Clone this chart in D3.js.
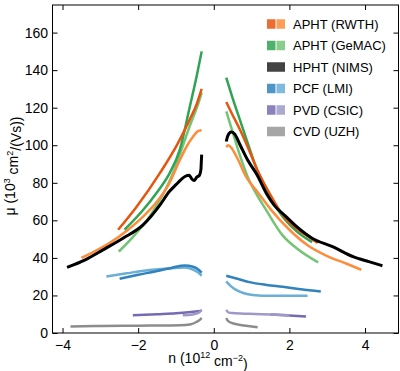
<!DOCTYPE html>
<html>
<head>
<meta charset="utf-8">
<script src="https://cdn.jsdelivr.net/npm/d3@7"></script>
<style>
  body { margin: 0; background: #fff; }
  svg { font-family: "Liberation Sans", Arial, sans-serif; }
</style>
</head>
<body>
<div class="MobilityPlot"></div>
<script>
// tick values
const xTicks = [-4, -2, 0, 2, 4]
const yTicks = [0, 20, 40, 60, 80, 100, 120, 140, 160]

// legend entries
const legendLabels = ["APHT (RWTH)", "APHT (GeMAC)", "HPHT (NIMS)", "PCF (LMI)", "PVD (CSIC)", "CVD (UZH)"]
const legendColors = [
  ["#e6550d", "#fd8d3c"],
  ["#31a354", "#74c476"],
  ["#222222"],
  ["#3182bd", "#6baed6"],
  ["#756bb1", "#9e9ac8"],
  ["#969696"]
]

// series: [n (1e12 cm^-2), mu (1e3 cm^2/Vs)]
const rwthDarkNeg = [[-2.53,55],[-2.05,67],[-1.43,85],[-0.95,101],[-0.64,113.5],[-0.45,122],[-0.32,130]]
const rwthDarkPos = [[0.33,123],[0.5,116],[0.7,108],[0.9,99],[1.15,87],[1.5,73.5],[1.82,63],[2.2,55.5],[2.6,50],[2.75,48]]
const rwthLightNeg = [[-3.5,40],[-3.1,44],[-2.75,48],[-2.3,54.5],[-1.87,62],[-1.5,70],[-1.17,80],[-0.9,92],[-0.7,100],[-0.55,104.5],[-0.42,107.5],[-0.32,108]]
const rwthLightPos = [[0.33,99],[0.38,100],[0.45,99],[0.6,94],[0.86,83],[1.16,75],[1.5,66],[2.0,55],[2.5,46.5],[3.0,41],[3.5,37],[3.9,33.7]]

const gemacDarkNeg = [[-2.36,55],[-1.87,65.5],[-1.5,75],[-1.17,85],[-0.9,97.5],[-0.64,120],[-0.45,137],[-0.32,150]]
const gemacDarkPos = [[0.33,136],[0.5,125],[0.7,113],[0.9,101],[1.15,86.5],[1.5,72.5],[1.82,62],[2.2,54],[2.6,48.4]]
const gemacLightNeg = [[-2.51,43.4],[-2.1,52],[-1.7,62],[-1.08,85],[-0.64,110],[-0.38,124],[-0.32,128]]
const gemacLightPos = [[0.33,118],[0.5,107],[0.7,94],[0.9,83],[1.1,75],[1.4,65],[1.82,52],[2.2,45],[2.76,37.6]]

const nimsNeg = [[-3.88,35],[-3.4,39],[-2.93,44.3],[-2.4,50.5],[-1.87,57.6],[-1.43,68],[-1.17,75.5],[-1.0,79],[-0.85,82],[-0.75,83.5],[-0.65,84],[-0.58,82],[-0.52,81.2],[-0.45,83],[-0.38,84],[-0.34,87],[-0.33,91],[-0.32,95]]
const nimsPos = [[0.33,102],[0.37,105],[0.46,107],[0.55,106],[0.7,100],[0.9,92],[1.15,84],[1.4,74],[1.6,68],[1.91,62],[2.17,57],[2.6,50.5],[3.14,46],[3.7,40.5],[4.1,38],[4.46,35.8]]

const lmiDarkNeg = [[-2.49,28.9],[-2.0,31],[-1.5,33],[-1.1,34.8],[-0.77,36],[-0.55,35.3],[-0.42,34],[-0.32,32.2]]
const lmiDarkPos = [[0.33,30.5],[0.6,29],[0.94,27.1],[1.4,25.6],[1.82,24.6],[2.3,23.3],[2.83,22.1]]
const lmiLightNeg = [[-2.84,30.1],[-2.3,31.8],[-1.7,33.5],[-1.2,34.4],[-0.77,34.9],[-0.55,33.8],[-0.42,32.3],[-0.32,30.5]]
const lmiLightPos = [[0.33,27.5],[0.45,25],[0.59,23],[0.8,21.2],[1.03,20.3],[1.5,19.8],[2.0,19.9],[2.48,19.9]]

const csicDarkNeg = [[-2.14,9.4],[-1.5,10],[-1.0,10.5],[-0.6,11.2],[-0.32,11.8]]
const csicDarkPos = [[1.5,9.9],[2.0,9.3],[2.44,8.8]]
const csicLightNeg = [[-0.82,9.4],[-0.55,9.9],[-0.4,10.8],[-0.32,12.4]]
const csicLightPos = [[0.33,12.4],[0.38,11],[0.5,10.6],[0.94,10.2],[1.5,9.8],[2.0,9.4]]

const uzhNeg = [[-3.79,3.5],[-3.0,3.7],[-2.0,3.9],[-1.2,4],[-0.9,4.1],[-0.6,4.7],[-0.46,5.9],[-0.37,7],[-0.32,8]]
const uzhPos = [[0.33,8],[0.38,6.3],[0.5,5.2],[0.7,4.3],[0.85,3.9],[1.16,3.1]]

const series = [
  {data: uzhNeg, color: "#8c8c8c"}, {data: uzhPos, color: "#8c8c8c"},
  {data: csicDarkNeg, color: "#756bb1"}, {data: csicDarkPos, color: "#756bb1"},
  {data: csicLightNeg, color: "#9e9ac8"}, {data: csicLightPos, color: "#9e9ac8"},
  {data: lmiLightNeg, color: "#6baed6"}, {data: lmiLightPos, color: "#6baed6"},
  {data: lmiDarkNeg, color: "#3182bd"}, {data: lmiDarkPos, color: "#3182bd"},
  {data: gemacLightNeg, color: "#74c476"}, {data: gemacLightPos, color: "#74c476"},
  {data: rwthLightNeg, color: "#fd8d3c"}, {data: rwthLightPos, color: "#fd8d3c"},
  {data: gemacDarkNeg, color: "#31a354"}, {data: gemacDarkPos, color: "#31a354"},
  {data: rwthDarkNeg, color: "#e6550d"}, {data: rwthDarkPos, color: "#e6550d"},
  {data: nimsNeg, color: "#000000", width: 3}, {data: nimsPos, color: "#000000", width: 3}
]

const width = 400
const height = 371
const margin = ({top: 5, right: 1.5, bottom: 38, left: 52.5})

let x = d3.scaleLinear()
  .domain([-4.265, 4.885])
  .range([margin.left, width - margin.right])

let y = d3.scaleLinear()
  .domain([0, 174.7])
  .range([height - margin.bottom, margin.top])

const svg = d3.select(".MobilityPlot").append("svg")
  .attr("width", width)
  .attr("height", height)
  .attr("viewBox", [0, 0, width, height])

// curves
let line = d3.line()
  .x(d => x(d[0]))
  .y(d => y(d[1]))
  .curve(d3.curveMonotoneX)

svg.append("g")
    .attr("fill", "none")
    .attr("stroke-linejoin", "round")
  .selectAll("path")
  .data(series)
  .join("path")
    .attr("stroke", d => d.color)
    .attr("stroke-width", d => d.width || 2.5)
    .attr("d", d => line(d.data))

// axes with inward ticks
let xAxis = g => g
  .attr("transform", `translate(0,${height - margin.bottom})`)
  .call(d3.axisBottom(x).tickValues(xTicks).tickSizeInner(-5).tickSizeOuter(0).tickPadding(7))
  .call(g => g.select(".domain").remove())

let xAxisTop = g => g
  .attr("transform", `translate(0,${margin.top})`)
  .call(d3.axisTop(x).tickValues(xTicks).tickSizeInner(-5).tickSizeOuter(0).tickFormat(""))
  .call(g => g.select(".domain").remove())

let yAxis = g => g
  .attr("transform", `translate(${margin.left},0)`)
  .call(d3.axisLeft(y).tickValues(yTicks).tickSizeInner(-5).tickSizeOuter(0).tickPadding(4.5))
  .call(g => g.select(".domain").remove())

let yAxisRight = g => g
  .attr("transform", `translate(${width - margin.right},0)`)
  .call(d3.axisRight(y).tickValues(yTicks).tickSizeInner(-5).tickSizeOuter(0).tickFormat(""))
  .call(g => g.select(".domain").remove())

for (const ax of [xAxis, xAxisTop, yAxis, yAxisRight]) {
  svg.append("g").call(ax)
    .call(g => g.selectAll("text").attr("font-size", 14).attr("font-family", "Liberation Sans, Arial, sans-serif").attr("fill", "#000"))
    .call(g => g.selectAll("line").attr("stroke", "#000"))
}

// frame
svg.append("rect")
  .attr("x", margin.left)
  .attr("y", margin.top)
  .attr("width", width - margin.right - margin.left)
  .attr("height", height - margin.bottom - margin.top)
  .attr("fill", "none")
  .attr("stroke", "#000")
  .attr("stroke-width", 1)

// axis labels
let xLabel = svg.append("text")
  .attr("x", 208)
  .attr("y", 363)
  .attr("text-anchor", "middle")
  .attr("font-size", 14)
xLabel.append("tspan").text("n (10")
xLabel.append("tspan").attr("font-size", 9).attr("dy", "-0.6em").text("12")
xLabel.append("tspan").attr("dy", "0.6em").text(" cm")
xLabel.append("tspan").attr("font-size", 9).attr("dy", "-0.6em").text("−2")
xLabel.append("tspan").attr("dy", "0.6em").text(")")

let yLabel = svg.append("text")
  .attr("text-anchor", "middle")
  .attr("transform", "translate(15,166)rotate(-90)")
  .attr("font-size", 14)
yLabel.append("tspan").text("μ (10")
yLabel.append("tspan").attr("font-size", 9).attr("dy", "-0.6em").text("3")
yLabel.append("tspan").attr("dy", "0.6em").text(" cm")
yLabel.append("tspan").attr("font-size", 9).attr("dy", "-0.6em").text("2")
yLabel.append("tspan").attr("dy", "0.6em").text("/(Vs))")

// legend
const legend = svg.append("g")
  .selectAll("g")
  .data(legendLabels)
  .join("g")
    .attr("transform", (d, i) => `translate(267,${24 + i * 21.5})`)

legend.each(function(d, i) {
  const g = d3.select(this)
  const cols = legendColors[i]
  if (cols.length === 2) {
    g.append("rect").attr("x", 0).attr("y", -4.75).attr("width", 8.5).attr("height", 9.5).attr("fill", cols[0]).attr("fill-opacity", 0.85)
    g.append("rect").attr("x", 9.5).attr("y", -4.75).attr("width", 8.5).attr("height", 9.5).attr("fill", cols[1]).attr("fill-opacity", 0.85)
  } else {
    g.append("rect").attr("x", 0).attr("y", -4.75).attr("width", 18).attr("height", 9.5).attr("fill", cols[0]).attr("fill-opacity", 0.85)
  }
  g.append("text")
    .attr("x", 26)
    .attr("y", 4.7)
    .attr("font-size", 13)
    .text(d)
})
</script>
</body>
</html>
